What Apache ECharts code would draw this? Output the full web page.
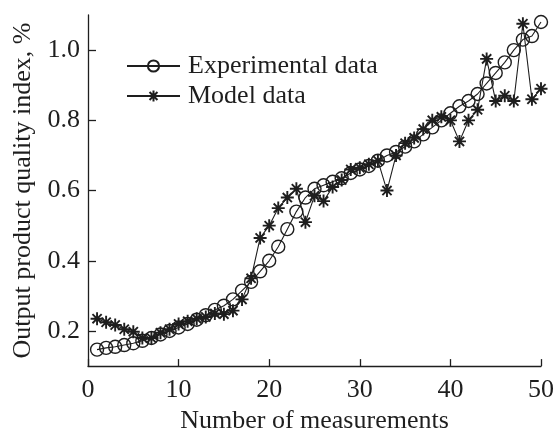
<!DOCTYPE html>
<html>
<head>
<meta charset="utf-8">
<script src="https://cdn.jsdelivr.net/npm/echarts@6/dist/echarts.min.js"></script>
<style>html,body{margin:0;padding:0;background:#fff;}#c{width:557px;height:439px;}</style>
</head>
<body>
<div id="c"></div>
<script>
const measurements = [1,2,3,4,5,6,7,8,9,10,11,12,13,14,15,16,17,18,19,20,21,22,23,24,25,26,27,28,29,30,31,32,33,34,35,36,37,38,39,40,41,42,43,44,45,46,47,48,49,50];
const experimental = [0.147,0.152,0.155,0.16,0.165,0.172,0.18,0.19,0.20,0.21,0.22,0.232,0.245,0.26,0.272,0.29,0.315,0.34,0.37,0.40,0.44,0.49,0.54,0.58,0.605,0.615,0.625,0.635,0.65,0.66,0.67,0.685,0.70,0.71,0.725,0.74,0.76,0.78,0.80,0.82,0.84,0.855,0.875,0.905,0.935,0.965,1.0,1.03,1.04,1.08];
const model = [0.235,0.225,0.217,0.205,0.198,0.18,0.18,0.195,0.205,0.22,0.228,0.235,0.24,0.25,0.248,0.258,0.29,0.35,0.465,0.50,0.55,0.58,0.605,0.51,0.585,0.57,0.61,0.63,0.66,0.665,0.675,0.685,0.60,0.70,0.735,0.75,0.775,0.80,0.81,0.80,0.74,0.80,0.83,0.975,0.855,0.87,0.855,1.075,0.86,0.89];
const yTickValues = [0.2,0.4,0.6,0.8,1.0];
const seriesNames = ['Experimental data','Model data'];

const font = 'Liberation Serif';
const ink = '#1e1e1e';
const star = 'path://M6,0L6,12M0,6L12,6M1.76,1.76L10.24,10.24M1.76,10.24L10.24,1.76';

const chart = echarts.init(document.getElementById('c'), null, {renderer:'canvas'});
chart.setOption({
  animation: false,
  backgroundColor: '#fff',
  grid: {left: 88, right: 14, top: 15, bottom: 61, containLabel: false},
  legend: {
    orient: 'vertical', left: 121, top: 48, itemWidth: 53, itemHeight: 14, itemGap: 4,
    textStyle: {fontFamily: font, fontSize: 26, color: ink, padding:[0,0,0,3]},
    data: seriesNames
  },
  xAxis: {
    type: 'value', min: 0, max: 50, interval: 10,
    name: 'Number of measurements', nameLocation: 'middle', nameGap: 31,
    nameTextStyle: {fontFamily: font, fontSize: 26, color: ink},
    axisLine: {lineStyle: {color: ink, width: 1.3}},
    axisTick: {inside: true, length: 7, lineStyle: {color: ink, width: 1.3}},
    axisLabel: {fontFamily: font, fontSize: 26, color: ink, margin: 11},
    splitLine: {show: false}
  },
  yAxis: {
    type: 'value', min: 0.1, max: 1.1,
    name: 'Output product quality index, %', nameLocation: 'middle', nameGap: 52,
    nameTextStyle: {fontFamily: font, fontSize: 26, color: ink},
    axisLine: {show: true, lineStyle: {color: ink, width: 1.3}},
    axisTick: {show: true, inside: true, length: 8, customValues: yTickValues, lineStyle: {color: ink, width: 1.3}},
    axisLabel: {fontFamily: font, fontSize: 26, color: ink, margin: 8, customValues: yTickValues,
      formatter: v => v.toFixed(1)},
    splitLine: {show: false}
  },
  series: [
    {
      name: seriesNames[0], type: 'line',
      data: measurements.map((n,i) => [n, experimental[i]]),
      symbol: 'circle', symbolSize: 13,
      lineStyle: {color: ink, width: 1.1},
      itemStyle: {color: 'rgba(255,255,255,0)', borderColor: ink, borderWidth: 1.4},
      z: 2
    },
    {
      name: seriesNames[1], type: 'line',
      data: measurements.map((n,i) => [n, model[i]]),
      symbol: star, symbolSize: 13,
      lineStyle: {color: ink, width: 1.1},
      itemStyle: {color: ink, borderColor: ink, borderWidth: 1.9},
      z: 3
    }
  ]
});
</script>
</body>
</html>
